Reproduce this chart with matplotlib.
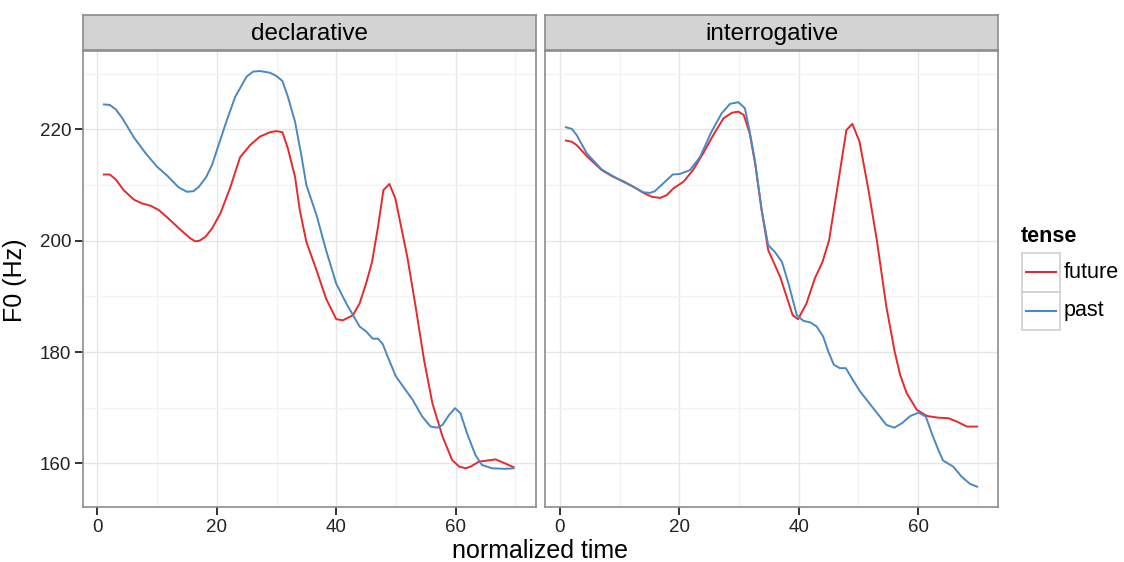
import numpy as np
import matplotlib
matplotlib.use("Agg")
import matplotlib.pyplot as plt
from matplotlib.patches import Rectangle
from matplotlib.lines import Line2D

plt.rcParams['font.family'] = ['Liberation Sans', 'DejaVu Sans']

# values (normalized time, F0 in Hz)
decl_future_t = [1.1, 2.1, 3.1, 4.4, 6.1, 7.5, 8.9, 10.3, 11.9, 13.9, 15.6, 16.4, 17.1, 18.1, 19.2, 20.6,
                 22.2, 23.9, 25.6, 27.2, 28.9, 30, 31, 31.9, 33.1, 33.9, 35, 36.7, 38.3, 40, 41.1, 42.8,
                 43.9, 45, 46, 47, 47.9, 48.9, 49.9, 51.9, 53.3, 54.7, 56.1, 57.8, 59.4, 60.6, 61.7, 62.5,
                 63.9, 66.7, 68, 69.7]
decl_future_f = [211.9, 211.9, 211.0, 209.1, 207.4, 206.7, 206.3, 205.5, 204.0, 202.0, 200.4, 199.9, 200.0,
                 200.7, 202.2, 204.9, 209.4, 215.0, 217.2, 218.7, 219.5, 219.7, 219.5, 216.6, 211.5, 205.5,
                 199.8, 194.7, 189.6, 185.9, 185.7, 186.6, 188.7, 192.3, 196.2, 202.5, 209.1, 210.2, 207.6,
                 197.1, 188.1, 178.6, 170.8, 164.8, 160.6, 159.4, 159.1, 159.4, 160.3, 160.7, 160.1, 159.3]

decl_past_t = [1.1, 2.1, 3.1, 4.2, 6.1, 8.1, 10, 11.7, 13.6, 15, 16.1, 17, 18.2, 19.2, 20.3, 21.7, 23.1,
               25, 26.1, 27.2, 28.9, 30, 31, 31.9, 33.1, 34.2, 35, 36.7, 38.3, 40, 41.7, 43.9, 45, 46.1,
               47, 47.8, 48.6, 50, 52.8, 54.4, 55.8, 56.9, 57.8, 58.9, 59.9, 60.8, 61.9, 63.3, 64.4, 66.1,
               68.3, 69.7]
decl_past_f = [224.5, 224.4, 223.6, 222.0, 218.6, 215.7, 213.3, 211.7, 209.6, 208.8, 208.9, 209.7, 211.4,
               213.6, 217.2, 221.7, 225.9, 229.5, 230.4, 230.5, 230.2, 229.6, 228.7, 225.9, 221.4, 215.1,
               210.0, 204.6, 198.3, 192.3, 188.7, 184.6, 183.7, 182.4, 182.4, 181.4, 179.2, 175.6, 171.4,
               168.4, 166.6, 166.4, 166.9, 168.7, 169.9, 169.0, 165.4, 161.5, 159.7, 159.1, 159.0, 159.1]

inter_future_t = [1, 1.96, 2.8, 4.5, 7, 8.9, 10.6, 12.3, 14, 15.4, 16.8, 17.9, 19, 20.7, 22.3, 24, 25.7,
                  27.4, 28.8, 29.9, 30.8, 31.8, 32.7, 33.8, 34.9, 36.9, 39, 39.9, 41.3, 42.7, 44, 45.1,
                  46.6, 48, 49, 50.2, 51.7, 53.1, 54.7, 56.1, 57, 58.1, 59.8, 61.5, 63.4, 65.1, 66.5, 68.2,
                  69.9]
inter_future_f = [218.0, 217.8, 217.2, 215.2, 212.7, 211.5, 210.7, 209.7, 208.6, 207.9, 207.7, 208.2, 209.4,
                  210.6, 212.7, 215.7, 219.0, 222.0, 223.0, 223.2, 222.6, 219.3, 213.9, 205.5, 198.3, 193.5,
                  186.6, 185.9, 188.7, 193.2, 196.2, 200.1, 210.3, 219.9, 221.0, 217.8, 209.1, 200.1, 188.1,
                  180.0, 175.9, 172.6, 169.6, 168.5, 168.2, 168.1, 167.5, 166.6, 166.6]

inter_past_t = [1, 2, 2.8, 4.5, 7, 8.9, 10.6, 12.3, 14, 15.1, 15.9, 17.3, 18.9, 20.1, 21.8, 23.5, 25.4,
                27.1, 28.5, 29.9, 31, 31.8, 32.7, 33.8, 34.9, 36, 37.2, 38.3, 39.7, 40.8, 42, 43, 44.1, 45,
                45.9, 46.9, 47.9, 48.9, 50.3, 52.5, 54.7, 56, 57.3, 58.7, 60.1, 61.3, 62.3, 63.4, 64.2,
                65.9, 67.3, 68.7, 69.9]
inter_past_f = [220.4, 220.1, 219.0, 215.7, 212.8, 211.6, 210.6, 209.7, 208.7, 208.6, 208.9, 210.3, 211.9,
                212.0, 212.7, 215.1, 219.6, 222.9, 224.6, 224.9, 223.8, 219.6, 214.2, 205.5, 199.2, 198.0,
                196.2, 192.3, 186.6, 185.6, 185.3, 184.6, 182.8, 180.0, 177.7, 177.1, 177.1, 175.3, 172.9,
                169.9, 166.9, 166.4, 167.2, 168.5, 169.1, 168.4, 165.4, 162.4, 160.5, 159.4, 157.6, 156.3,
                155.8]

panels = ["declarative", "interrogative"]
tense_labels = ["future", "past"]
tense_colors = ["#E8292B", "#4A88C2"]
x_ticks = [0, 20, 40, 60]
y_ticks = [160, 180, 200, 220]

W, H = 1124, 562
fig = plt.figure(figsize=(W / 100, H / 100), dpi=100)

def fbox(x0, y0, x1, y1):
    # pixel box (top-left origin) -> figure fraction rect
    return [x0 / W, 1 - y1 / H, (x1 - x0) / W, (y1 - y0) / H]

panel_x = [(82.7, 536.0), (545.3, 998.3)]
data = [[(decl_future_t, decl_future_f), (decl_past_t, decl_past_f)],
        [(inter_future_t, inter_future_f), (inter_past_t, inter_past_f)]]

for i, name in enumerate(panels):
    x0, x1 = panel_x[i]
    ax = fig.add_axes(fbox(x0, 51, x1, 506.7))
    for (t, f), c in zip(data[i], tense_colors):
        ax.plot(t, f, color=c, lw=1.4, solid_joinstyle="round")
    ax.set_xlim(-2.45, 73.45)
    ax.set_ylim(152.2, 234.1)
    ax.set_xticks(x_ticks)
    ax.set_xticks([10, 30, 50, 70], minor=True)
    ax.set_yticks(y_ticks)
    ax.set_yticks([170, 190, 210, 230], minor=True)
    ax.grid(True, which="major", color="#E6E6E6", lw=1.0)
    ax.grid(True, which="minor", color="#F3F3F3", lw=1.0)
    ax.set_axisbelow(True)
    for s in ax.spines.values():
        s.set_color("#8C8C8C")
        s.set_linewidth(1.2)
    ax.tick_params(which="major", direction="out", length=5.5, width=1.3, color="#222222",
                   labelsize=13.5, labelcolor="#222222")
    ax.tick_params(axis="x", pad=3.5)
    ax.tick_params(axis="y", pad=2.8)
    ax.tick_params(which="minor", length=0)
    if i > 0:
        ax.tick_params(axis="y", which="major", length=0, labelleft=False)

    sax = fig.add_axes(fbox(x0, 15, x1, 50))
    sax.set_facecolor("#D3D3D3")
    sax.set_xticks([])
    sax.set_yticks([])
    for s in sax.spines.values():
        s.set_color("#8C8C8C")
        s.set_linewidth(1.2)
    sax.text(0.5, 0.45, name, ha="center", va="center", fontsize=17.5, transform=sax.transAxes)

fig.text(15 / W, 1 - 280 / H, "F0 (Hz)", ha="center", va="center", rotation=90, fontsize=18)
fig.text(540 / W, 1 - 551 / H, "normalized time", ha="center", va="center", fontsize=18)

# legend drawn in figure pixel coords
fig.text(1021 / W, 1 - 237 / H, "tense", ha="left", va="center", fontsize=15.5, fontweight="bold")
key_tops = [253.3, 291.7]
for top, lab, c in zip(key_tops, tense_labels, tense_colors):
    fig.add_artist(Rectangle((1022 / W, 1 - (top + 38.3) / H), 38 / W, 38.3 / H,
                             transform=fig.transFigure, facecolor="white",
                             edgecolor="#D0D0D0", lw=1.2))
    ym = 1 - (top + 19) / H
    fig.add_artist(Line2D([1026 / W, 1056 / W], [ym, ym], transform=fig.transFigure,
                          color=c, lw=1.5))
    fig.text(1064 / W, ym, lab, ha="left", va="center", fontsize=15.5)

fig.savefig("out.png", dpi=100)
